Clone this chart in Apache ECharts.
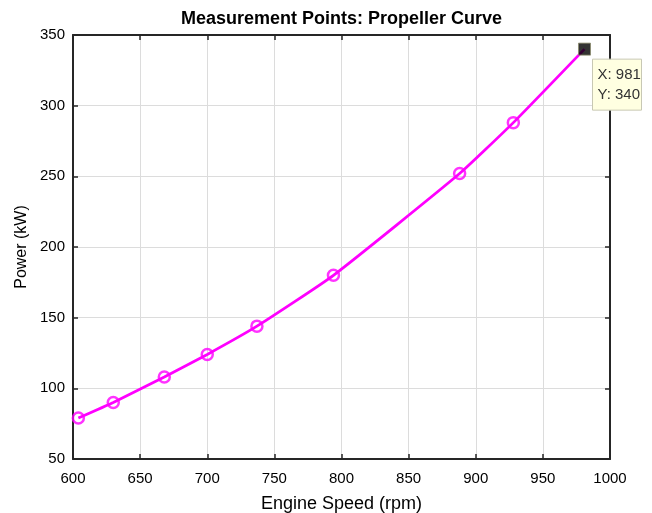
<!DOCTYPE html>
<html>
<head>
<meta charset="utf-8">
<script src="https://cdn.jsdelivr.net/npm/echarts@6/dist/echarts.min.js"></script>
<style>
html,body{margin:0;padding:0;background:#fff;}
#chart{width:652px;height:513px;}
</style>
</head>
<body>
<div id="chart"></div>
<script>
// ---- data ----
const titleText = 'Measurement Points: Propeller Curve';
const xName = 'Engine Speed (rpm)';
const yName = 'Power (kW)';
const speedRpm = [604, 630, 668, 700, 737, 794, 888, 928, 981];
const powerKw  = [79, 90, 108, 124, 144, 180, 252, 288, 340];
const markerSpeed = [604, 630, 668, 700, 737, 794, 888, 928];
const markerPower = [79, 90, 108, 124, 144, 180, 252, 288];
const tipPoint = [981, 340];
const xTicks = [600, 650, 700, 750, 800, 850, 900, 950, 1000];
const yTicks = [50, 100, 150, 200, 250, 300, 350];

const FONT = '"Liberation Sans", Arial, Helvetica, sans-serif';
const chart = echarts.init(document.getElementById('chart'), null, {renderer: 'canvas'});

const lineData = speedRpm.map((x, i) => [x, powerKw[i]]);
const markerData = markerSpeed.map((x, i) => [x, markerPower[i]]);

const axisCommon = {
  type: 'value',
  axisLine: {show: true, onZero: false, lineStyle: {color: '#262626', width: 2}},
  axisTick: {show: true, inside: true, length: 5, lineStyle: {color: '#262626', width: 1.5}},
};

const option = {
  backgroundColor: '#ffffff',
  animation: false,
  grid: {left: 73, right: 42, top: 35, bottom: 54, containLabel: false, outerBoundsMode: 'none'},
  xAxis: [
    Object.assign({}, axisCommon, {
      min: xTicks[0], max: xTicks[xTicks.length - 1], interval: 50,
      position: 'bottom',
      name: xName, nameLocation: 'middle', nameGap: 36, nameMoveOverlap: false,
      nameTextStyle: {fontFamily: FONT, fontSize: 18, color: '#000'},
      axisLabel: {fontFamily: FONT, fontSize: 15, color: '#000', margin: 12,
                  formatter: v => String(v)},
      splitLine: {show: true, lineStyle: {color: '#dcdcdc', width: 1}}
    }),
    Object.assign({}, axisCommon, {
      min: xTicks[0], max: xTicks[xTicks.length - 1], interval: 50,
      position: 'top', axisLabel: {show: false}, splitLine: {show: false}
    })
  ],
  yAxis: [
    Object.assign({}, axisCommon, {
      min: yTicks[0], max: yTicks[yTicks.length - 1], interval: 50,
      position: 'left',
      name: yName, nameLocation: 'middle', nameGap: 43, nameMoveOverlap: false,
      nameTextStyle: {fontFamily: FONT, fontSize: 16, color: '#000'},
      axisLabel: {fontFamily: FONT, fontSize: 15, color: '#000', margin: 8,
                  formatter: v => String(v)},
      splitLine: {show: true, lineStyle: {color: '#dcdcdc', width: 1}}
    }),
    Object.assign({}, axisCommon, {
      min: yTicks[0], max: yTicks[yTicks.length - 1], interval: 50,
      position: 'right', axisLabel: {show: false}, splitLine: {show: false}
    })
  ],
  series: [
    {
      type: 'line', data: lineData, xAxisIndex: 0, yAxisIndex: 0,
      showSymbol: false, smooth: 0.15,
      lineStyle: {color: '#ff00ff', width: 2.8}
    },
    {
      type: 'scatter', data: markerData, xAxisIndex: 0, yAxisIndex: 0,
      symbol: 'circle', symbolSize: 11,
      itemStyle: {color: 'rgba(255,255,255,0)', borderColor: '#ff00ff', borderWidth: 2.5}
    },
    {
      type: 'scatter', data: [tipPoint], xAxisIndex: 0, yAxisIndex: 0,
      symbol: 'rect', symbolSize: 12,
      itemStyle: {color: '#000', borderColor: '#8a8a6a', borderWidth: 1}, z: 5
    }
  ]
};
chart.setOption(option);

// title centred over the plot area + data tip box anchored to tip point
const p0 = chart.convertToPixel({gridIndex: 0}, [xTicks[0], yTicks[yTicks.length - 1]]);
const p1 = chart.convertToPixel({gridIndex: 0}, [xTicks[xTicks.length - 1], yTicks[0]]);
const tp = chart.convertToPixel({gridIndex: 0}, tipPoint);
chart.setOption({
  graphic: [
    {
      type: 'text', x: (p0[0] + p1[0]) / 2, y: 10, silent: true, z: 100,
      style: {text: titleText, textAlign: 'center', fill: '#000', font: 'bold 18px ' + FONT}
    },
    {
      type: 'rect', x: tp[0] + 8, y: tp[1] + 10, z: 100, zlevel: 1,
      shape: {x: 0, y: 0, width: 49, height: 51},
      style: {fill: '#ffffe1', stroke: '#c8c8b4', lineWidth: 1}
    },
    {
      type: 'text', x: tp[0] + 13, y: tp[1] + 18, z: 101, zlevel: 1,
      style: {text: 'X: ' + tipPoint[0], fill: '#333', font: '15px ' + FONT}
    },
    {
      type: 'text', x: tp[0] + 13, y: tp[1] + 38, z: 101, zlevel: 1,
      style: {text: 'Y: ' + tipPoint[1], fill: '#333', font: '15px ' + FONT}
    }
  ]
});
</script>
</body>
</html>
